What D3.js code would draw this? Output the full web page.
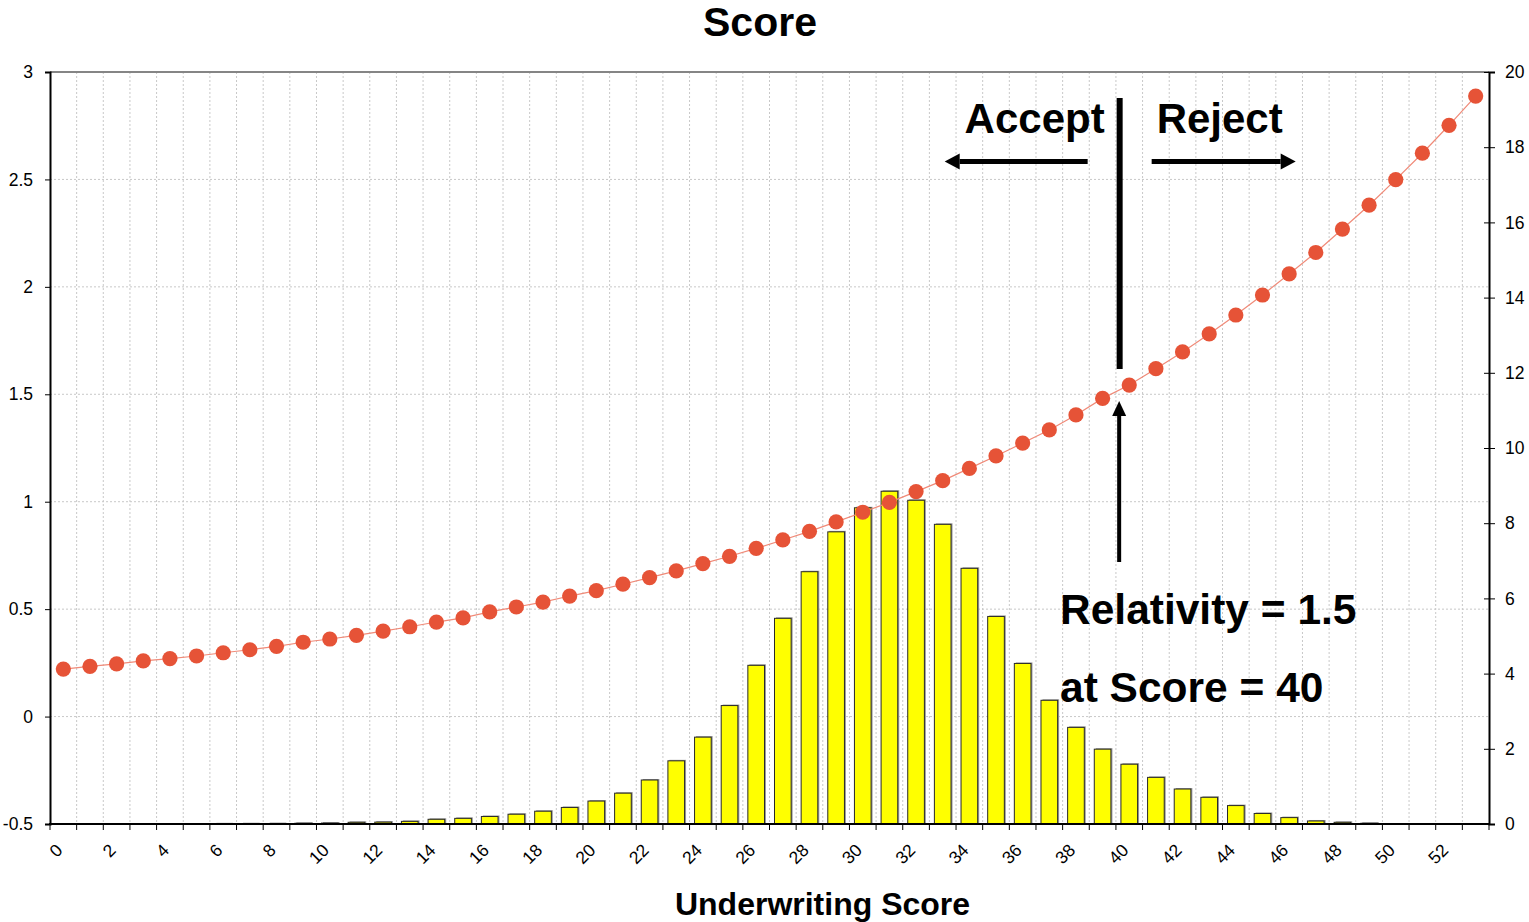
<!DOCTYPE html>
<html>
<head>
<meta charset="utf-8">
<script src="https://cdn.jsdelivr.net/npm/d3@7"></script>
<style>
  html, body { margin: 0; padding: 0; background: #fff; }
  svg { display: block; font-family: "Liberation Sans", Arial, Helvetica, sans-serif; }
</style>
</head>
<body>
<svg id="chart" width="1529" height="922"></svg>
<script>
// Underwriting score categories
const scores = [0, 1, 2, 3, 4, 5, 6, 7, 8, 9, 10, 11, 12, 13, 14, 15, 16, 17, 18, 19,
  20, 21, 22, 23, 24, 25, 26, 27, 28, 29, 30, 31, 32, 33, 34, 35, 36, 37, 38, 39,
  40, 41, 42, 43, 44, 45, 46, 47, 48, 49, 50, 51, 52, 53];

// Share of policies at each score (%), right axis
const distribution = [0, 0, 0, 0, 0, 0, 0.005, 0.008, 0.012, 0.02,
  0.025, 0.045, 0.05, 0.07, 0.125, 0.15, 0.20, 0.26, 0.34, 0.44,
  0.61, 0.82, 1.17, 1.68, 2.31, 3.15, 4.22, 5.47, 6.71, 7.77,
  8.41, 8.85, 8.61, 7.97, 6.80, 5.52, 4.27, 3.29, 2.57, 1.99,
  1.59, 1.24, 0.93, 0.71, 0.49, 0.28, 0.17, 0.08, 0.045, 0.02,
  0, 0, 0, 0];

// Claims relativity at each score, left axis
const relativity = [0.221, 0.234, 0.245, 0.259, 0.270, 0.282, 0.297, 0.311, 0.327, 0.346,
  0.361, 0.378, 0.398, 0.418, 0.440, 0.459, 0.487, 0.510, 0.533, 0.561,
  0.586, 0.616, 0.647, 0.678, 0.712, 0.746, 0.783, 0.822, 0.862, 0.906,
  0.951, 0.997, 1.047, 1.098, 1.155, 1.213, 1.273, 1.334, 1.404, 1.481,
  1.543, 1.619, 1.697, 1.781, 1.869, 1.962, 2.060, 2.160, 2.269, 2.380,
  2.499, 2.622, 2.752, 2.888];

// Axis tick values
const leftTicks = [-0.5, 0, 0.5, 1, 1.5, 2, 2.5, 3];
const rightTicks = [0, 2, 4, 6, 8, 10, 12, 14, 16, 18, 20];
const xTickLabels = [0, 2, 4, 6, 8, 10, 12, 14, 16, 18, 20, 22, 24, 26, 28, 30,
  32, 34, 36, 38, 40, 42, 44, 46, 48, 50, 52];

// Cut-off used by the annotation
const cutoffScore = 40;

const svg = d3.select("#chart");
const plot = { left: 50, right: 1489, top: 72, bottom: 824 };

const x = d3.scaleBand()
  .domain(scores)
  .range([plot.left, plot.right])
  .paddingInner(0.375)
  .paddingOuter(0.1875);
const yL = d3.scaleLinear().domain([-0.5, 3]).range([plot.bottom, plot.top]);
const yR = d3.scaleLinear().domain([0, 20]).range([plot.bottom, plot.top]);

const cx = d => x(d) + x.bandwidth() / 2;
const gap = (x.step() - x.bandwidth()) / 2;
const boundaries = scores.map(d => x(d) - gap).concat([x(scores[scores.length - 1]) + x.bandwidth() + gap]);

// --- gridlines ---
const grid = svg.append("g").attr("class", "grid");
grid.selectAll("line.v")
  .data(boundaries.slice(1, -1))
  .join("line")
  .attr("class", "v")
  .attr("x1", d => d).attr("x2", d => d)
  .attr("y1", plot.top).attr("y2", plot.bottom)
  .attr("stroke", "#c8c8c8")
  .attr("stroke-width", 1)
  .attr("stroke-dasharray", "2,2");
grid.selectAll("line.h")
  .data(leftTicks.filter(t => t > -0.5 && t < 3))
  .join("line")
  .attr("class", "h")
  .attr("x1", plot.left).attr("x2", plot.right)
  .attr("y1", d => yL(d)).attr("y2", d => yL(d))
  .attr("stroke", "#c8c8c8")
  .attr("stroke-width", 1)
  .attr("stroke-dasharray", "2,2");

// --- distribution bars ---
const bars = svg.append("g").attr("class", "bars");
const barData = scores.map((s, i) => ({ s, v: distribution[i] }));
bars.selectAll("rect.shadow")
  .data(barData.filter(d => d.v > 0))
  .join("rect")
  .attr("class", "shadow")
  .attr("x", d => x(d.s) + 1.5)
  .attr("y", d => yR(d.v) - 1)
  .attr("width", x.bandwidth())
  .attr("height", d => Math.max(0, yR(0) - yR(d.v)))
  .attr("fill", "#9a9a9a");
bars.selectAll("rect.bar")
  .data(barData.filter(d => d.v > 0))
  .join("rect")
  .attr("class", "bar")
  .attr("x", d => x(d.s))
  .attr("y", d => yR(d.v))
  .attr("width", x.bandwidth())
  .attr("height", d => Math.max(0, yR(0) - yR(d.v)))
  .attr("fill", "#ffff00")
  .attr("stroke", "#2a2a2a")
  .attr("stroke-width", 1);

// --- relativity line and markers ---
const relData = scores.map((s, i) => ({ s, v: relativity[i] }));
svg.append("path")
  .datum(relData)
  .attr("fill", "none")
  .attr("stroke", "#f08a78")
  .attr("stroke-width", 1.2)
  .attr("d", d3.line().x(d => cx(d.s)).y(d => yL(d.v)));
svg.append("g")
  .selectAll("circle")
  .data(relData)
  .join("circle")
  .attr("cx", d => cx(d.s))
  .attr("cy", d => yL(d.v))
  .attr("r", 7.6)
  .attr("fill", "#e65337");

// --- frame ---
svg.append("line")
  .attr("x1", plot.left).attr("x2", plot.right)
  .attr("y1", plot.top).attr("y2", plot.top)
  .attr("stroke", "#858585").attr("stroke-width", 2);

// --- left axis ---
const leftAxis = svg.append("g")
  .attr("transform", `translate(${plot.left},0)`)
  .call(d3.axisLeft(yL).tickValues(leftTicks).tickSize(5).tickPadding(12).tickFormat(d => String(d)));
leftAxis.select(".domain").attr("stroke", "#000").attr("stroke-width", 2);
leftAxis.selectAll(".tick line").attr("stroke", "#000");
leftAxis.selectAll("text").attr("font-size", 17.5).attr("fill", "#000")
  .style("font-family", "'Liberation Sans', Arial, sans-serif");

// --- right axis ---
const rightAxis = svg.append("g")
  .attr("transform", `translate(${plot.right},0)`)
  .call(d3.axisRight(yR).tickValues(rightTicks).tickSize(6).tickPadding(10).tickFormat(d => String(d)));
rightAxis.select(".domain").attr("stroke", "#000").attr("stroke-width", 2);
rightAxis.selectAll(".tick line").attr("stroke", "#000").attr("x1", -5);
rightAxis.selectAll("text").attr("font-size", 17.5).attr("fill", "#000")
  .style("font-family", "'Liberation Sans', Arial, sans-serif");

// --- bottom axis: boundary ticks plus rotated labels ---
svg.append("line")
  .attr("x1", plot.left - 1).attr("x2", plot.right + 1)
  .attr("y1", plot.bottom).attr("y2", plot.bottom)
  .attr("stroke", "#000").attr("stroke-width", 2);
svg.append("g").selectAll("line")
  .data(boundaries)
  .join("line")
  .attr("x1", d => d).attr("x2", d => d)
  .attr("y1", plot.bottom).attr("y2", plot.bottom + 6)
  .attr("stroke", "#000").attr("stroke-width", 1);
svg.append("g").selectAll("text")
  .data(xTickLabels)
  .join("text")
  .attr("transform", d => `translate(${cx(d) - 4},847) rotate(-45)`)
  .attr("text-anchor", "end")
  .attr("dy", "0.35em")
  .attr("font-size", 17.5)
  .attr("fill", "#000")
  .text(d => String(d));

// --- titles ---
svg.append("text")
  .attr("x", 760).attr("y", 36)
  .attr("text-anchor", "middle")
  .attr("font-size", 41).attr("font-weight", "bold")
  .text("Score");
svg.append("text")
  .attr("x", 822.5).attr("y", 915)
  .attr("text-anchor", "middle")
  .attr("font-size", 32).attr("font-weight", "bold")
  .text("Underwriting Score");

// --- accept / reject annotation ---
const cutX = cx(cutoffScore) - 0.36 * x.step();
const ann = svg.append("g").attr("class", "annotation");

ann.append("line")
  .attr("x1", cutX).attr("x2", cutX)
  .attr("y1", 98).attr("y2", 369)
  .attr("stroke", "#000").attr("stroke-width", 6);

function arrow(x1, y1, x2, y2, w, headLen, headHalf) {
  const ang = Math.atan2(y2 - y1, x2 - x1);
  const bx = x2 - headLen * Math.cos(ang), by = y2 - headLen * Math.sin(ang);
  ann.append("line")
    .attr("x1", x1).attr("y1", y1).attr("x2", bx).attr("y2", by)
    .attr("stroke", "#000").attr("stroke-width", w);
  const px = -Math.sin(ang) * headHalf, py = Math.cos(ang) * headHalf;
  ann.append("path")
    .attr("d", `M${x2},${y2}L${bx + px},${by + py}L${bx - px},${by - py}Z`)
    .attr("fill", "#000");
}
arrow(cutX - 32, 161.5, cutX - 175, 161.5, 5, 15, 8);
arrow(cutX + 32, 161.5, cutX + 176, 161.5, 5, 15, 8);
arrow(cutX - 0.5, 562, cutX - 0.5, 401, 4, 15, 7);

ann.append("text")
  .attr("x", cutX - 15).attr("y", 133)
  .attr("text-anchor", "end")
  .attr("font-size", 42).attr("font-weight", "bold")
  .text("Accept");
ann.append("text")
  .attr("x", cutX + 37).attr("y", 133)
  .attr("text-anchor", "start")
  .attr("font-size", 42).attr("font-weight", "bold")
  .text("Reject");
ann.append("text")
  .attr("x", 1060).attr("y", 624)
  .attr("font-size", 42.5).attr("font-weight", "bold")
  .text("Relativity = 1.5");
ann.append("text")
  .attr("x", 1060).attr("y", 702)
  .attr("font-size", 42.5).attr("font-weight", "bold")
  .text(`at Score = ${cutoffScore}`);
</script>
</body>
</html>
